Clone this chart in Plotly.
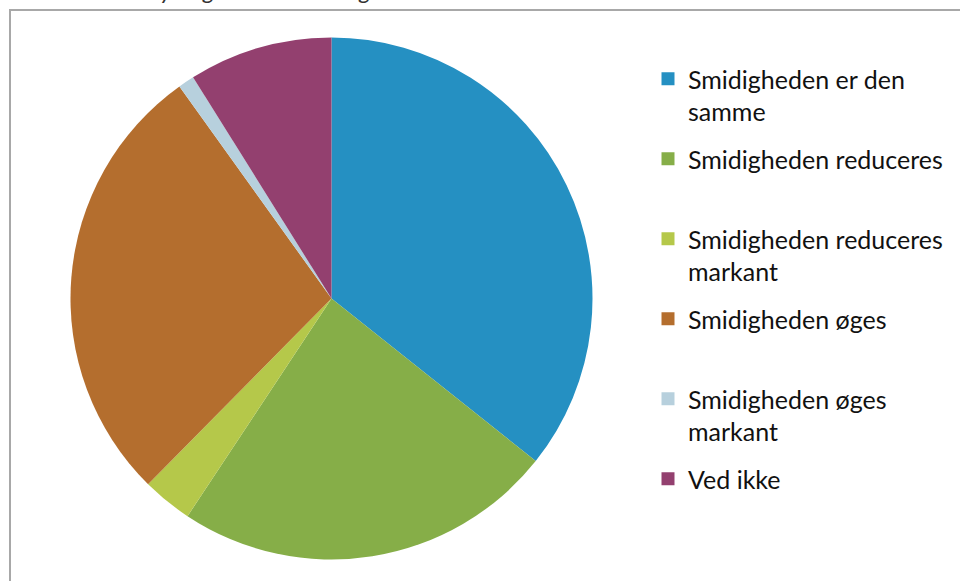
import plotly.graph_objects as go

# Survey answers and their shares (%)
labels = [
    "Smidigheden er den samme",
    "Smidigheden reduceres",
    "Smidigheden reduceres markant",
    "Smidigheden øges",
    "Smidigheden øges markant",
    "Ved ikke",
]
legend_text = [
    "Smidigheden er den<br>samme",
    "Smidigheden reduceres<br> ",
    "Smidigheden reduceres<br>markant",
    "Smidigheden øges<br> ",
    "Smidigheden øges<br>markant",
    "Ved ikke<br> ",
]
shares = [35.7, 23.6, 3.1, 27.7, 1.0, 8.9]
colors = ["#2590C2", "#86AE48", "#B5C84A", "#B46E2E", "#B7D0DD", "#93406F"]
title_text = "myndighedsbehandlingen"

W, H = 960, 581
cx, cy, r = 331.5, 298.5, 261.0

fig = go.Figure()

fig.add_trace(go.Pie(
    labels=labels,
    values=shares,
    marker=dict(colors=colors, line=dict(width=0)),
    sort=False,
    direction="clockwise",
    rotation=0,
    textinfo="none",
    hoverinfo="label+percent",
    showlegend=False,
    domain=dict(x=[(cx - r) / W, (cx + r) / W],
                y=[1 - (cy + r) / H, 1 - (cy - r) / H]),
))

# Legend entries, one group each so they can be spaced evenly
for name, col in zip(legend_text, colors):
    fig.add_trace(go.Scatter(
        x=[None], y=[None], mode="markers", name=name,
        legendgroup=name,
        marker=dict(symbol="square", size=13, color=col),
        hoverinfo="skip",
    ))

fig.update_layout(
    width=W, height=H,
    margin=dict(l=0, r=0, t=0, b=0),
    paper_bgcolor="white",
    plot_bgcolor="white",
    xaxis=dict(visible=False),
    yaxis=dict(visible=False),
    font=dict(family="Lato, sans-serif", color="#111111"),
    legend=dict(
        x=(668 - 20) / W, xanchor="left",
        y=1 - 56 / H, yanchor="top",
        valign="top",
        font=dict(size=25, family="Lato, sans-serif", color="#111111"),
        tracegroupgap=12,
        bgcolor="rgba(0,0,0,0)",
        borderwidth=0,
    ),
    shapes=[dict(
        type="rect", xref="paper", yref="paper",
        x0=10 / W, x1=1.05, y0=-0.05, y1=1 - 10 / H,
        line=dict(color="#A8A8A8", width=2),
        fillcolor="rgba(0,0,0,0)",
        layer="below",
    )],
    annotations=[dict(
        text=title_text, xref="paper", yref="paper",
        x=140 / W, xanchor="left",
        y=1 - 6 / H, yanchor="bottom",
        showarrow=False,
        font=dict(size=24, family="Lato, sans-serif", color="#333333", style="italic"),
    )],
)

fig.write_html("out.html")
